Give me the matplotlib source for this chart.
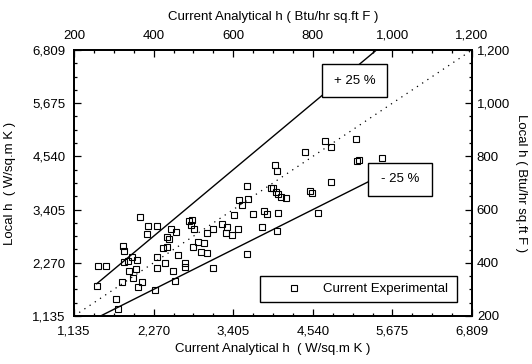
import matplotlib
matplotlib.use("Agg")
import matplotlib.pyplot as plt
from matplotlib.ticker import FuncFormatter, AutoMinorLocator, FixedLocator
from matplotlib.patches import Rectangle

plt.rcParams['font.family'] = ['Liberation Sans', 'DejaVu Sans']

# Data (W/sq.m K)
analytical = [1459, 1481, 1591, 1734, 1767, 1824, 1838, 1852, 1848, 1901,
              1924, 1958, 1981, 2019, 2029, 2052, 2109, 2076, 2180, 2195,
              2323, 2290, 2323, 2323, 2408, 2433, 2457, 2457, 2490, 2518,
              2551, 2575, 2585, 2614, 2718, 2718, 2779, 2813, 2799, 2846,
              2836, 2899, 2946, 2993, 3027, 3027, 3113, 3121, 3250, 3298,
              3321, 3392, 3421, 3469, 3488, 3535, 3598, 3612, 3598, 3692,
              3812, 3849, 3883, 3940, 4001, 4034, 3977, 4016, 4049, 4083,
              4158, 4049, 4025, 4714, 4800, 4429, 5152, 5175, 5199, 5531,
              4796, 4500, 4533, 4619]
experimental = [1781, 2202, 2202, 1491, 1291, 1854, 2635, 2521, 2293, 2308,
                2095, 2400, 1952, 2137, 2329, 1760, 1867, 3240, 2884, 3061,
                3055, 1690, 2165, 2400, 2592, 2259, 2814, 2600, 2777, 2991,
                2095, 1888, 2920, 2436, 2272, 2174, 3161, 3183, 3076, 2991,
                2613, 2720, 2494, 2686, 2472, 2912, 2165, 2991, 3091, 2912,
                3040, 2863, 3289, 2984, 3603, 3503, 3908, 3631, 2451, 3311,
                3027, 3375, 3311, 3872, 4356, 4228, 3859, 3786, 3737, 3680,
                3646, 3326, 2948, 4874, 4733, 4627, 4910, 4441, 4452, 4499,
                4000, 3808, 3765, 3326]

si_ticks = [1135, 2270, 3405, 4540, 5675, 6809]
eng_ticks = [200, 400, 600, 800, 1000, 1200]

parity_x = [1135, 6809]
upper_x = [1459, 5447]
upper_ratio = 1.25
lower_x = [1513, 5327]
lower_ratio = 0.75

fig = plt.figure(figsize=(5.32, 3.64), dpi=100)
ax = fig.add_axes([74/532, 1-316/364, 398/532, 266/364])

fs = 9.5
fmt = FuncFormatter(lambda v, p: f"{v:,.0f}")

ax.plot(parity_x, parity_x, linestyle=(0, (1, 4)), color='black', lw=0.9, zorder=2)
ax.plot(upper_x, [v*upper_ratio for v in upper_x], color='black', lw=1.0, zorder=2)
ax.plot(lower_x, [v*lower_ratio for v in lower_x], color='black', lw=1.0, zorder=2)

ax.plot(analytical, experimental, linestyle='none', marker='s', markersize=5,
        markerfacecolor='none', markeredgecolor='black', markeredgewidth=0.8,
        label='Current Experimental', zorder=3)

ax.set_xlim(1135, 6809)
ax.set_ylim(1135, 6809)
ax.xaxis.set_major_locator(FixedLocator(si_ticks))
ax.yaxis.set_major_locator(FixedLocator(si_ticks))
ax.xaxis.set_major_formatter(fmt)
ax.yaxis.set_major_formatter(fmt)
ax.xaxis.set_minor_locator(AutoMinorLocator(4))
ax.yaxis.set_minor_locator(AutoMinorLocator(4))
ax.tick_params(which='both', direction='in', labelsize=fs, width=0.9,
               top=False, right=False)
ax.tick_params(which='major', length=5)
ax.tick_params(which='minor', length=2.5)
ax.tick_params(axis='x', which='major', pad=7)
ax.tick_params(axis='y', which='major', pad=6)
for s in ax.spines.values():
    s.set_linewidth(1.2)

ax.set_xlabel('Current Analytical h  ( W/sq.m K )', fontsize=fs, labelpad=4)
ax.set_ylabel('Local h  ( W/sq.m K )', fontsize=fs, labelpad=12)

# top axis (Btu)
axt = ax.twiny()
axt.set_xlim(200, 1200)
axt.xaxis.set_major_locator(FixedLocator(eng_ticks))
axt.xaxis.set_minor_locator(AutoMinorLocator(4))
axt.xaxis.set_major_formatter(fmt)
axt.tick_params(which='both', direction='in', labelsize=fs, width=0.9)
axt.tick_params(which='major', length=5, pad=6)
axt.tick_params(which='minor', length=2.5)
axt.set_xlabel('Current Analytical h ( Btu/hr sq.ft F )', fontsize=fs, labelpad=7)

# right axis (Btu)
axr = ax.twinx()
axr.set_ylim(200, 1200)
axr.yaxis.set_major_locator(FixedLocator(eng_ticks))
axr.yaxis.set_minor_locator(AutoMinorLocator(4))
axr.yaxis.set_major_formatter(fmt)
axr.tick_params(which='both', direction='in', labelsize=fs, width=0.9)
axr.tick_params(which='major', length=5)
axr.tick_params(which='minor', length=2.5)
axr.set_ylabel('Local h ( Btu/hr sq.ft F )', fontsize=fs, rotation=270, labelpad=12)
for a in (axt, axr):
    for s in a.spines.values():
        s.set_linewidth(1.2)

# annotation boxes
ax.add_patch(Rectangle((4672, 5806), 927, 704, facecolor='white',
                       edgecolor='black', lw=1.0, zorder=4))
ax.text(5135, 6158, '+ 25 %', ha='center', va='center', fontsize=fs, zorder=5)
ax.add_patch(Rectangle((5327, 3695), 913, 704, facecolor='white',
                       edgecolor='black', lw=1.0, zorder=4))
ax.text(5784, 4047, '- 25 %', ha='center', va='center', fontsize=fs, zorder=5)

leg = ax.legend(loc='center', bbox_to_anchor=(0.452, 0.045, 0.528, 0.113),
                mode='expand', fontsize=fs, frameon=True, fancybox=False,
                edgecolor='black', framealpha=1, handlelength=4.0,
                handletextpad=0.2, borderpad=0.55)
leg.get_frame().set_linewidth(1.0)
leg.set_zorder(6)

fig.savefig('out.png', dpi=100)
